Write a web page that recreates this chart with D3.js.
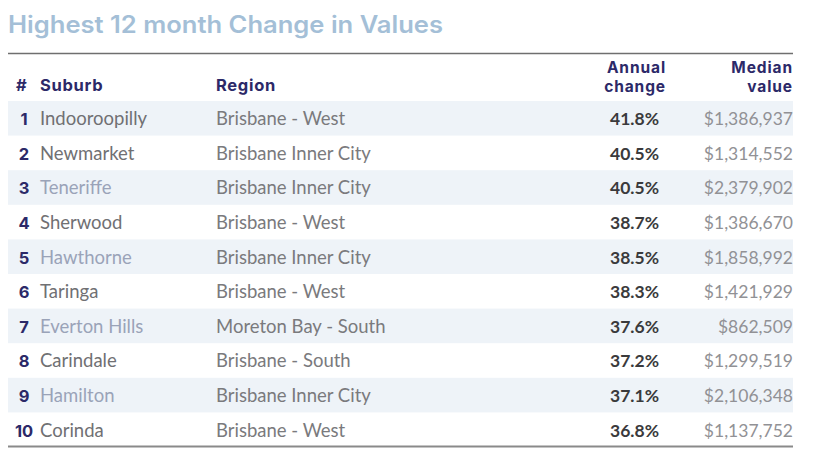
<!DOCTYPE html>
<html><head><meta charset="utf-8">
<script src="https://cdn.jsdelivr.net/npm/d3@7"></script>
<style>
html,body{margin:0;padding:0;background:#fff;}
svg{display:block;}
</style></head>
<body>
<svg id="chart" width="822" height="474"></svg>
<script>
const title = "Highest 12 month Change in Values";
const ranks = [1,2,3,4,5,6,7,8,9,10];
const suburbs = ["Indooroopilly","Newmarket","Teneriffe","Sherwood","Hawthorne","Taringa","Everton Hills","Carindale","Hamilton","Corinda"];
const regions = ["Brisbane - West","Brisbane Inner City","Brisbane Inner City","Brisbane - West","Brisbane Inner City","Brisbane - West","Moreton Bay - South","Brisbane - South","Brisbane Inner City","Brisbane - West"];
const annualChange = [41.8,40.5,40.5,38.7,38.5,38.3,37.6,37.2,37.1,36.8];
const medianValue = [1386937,1314552,2379902,1386670,1858992,1421929,862509,1299519,2106348,1137752];
const linkedSuburbs = ["Teneriffe","Hawthorne","Everton Hills","Hamilton"];

const svg = d3.select("#chart");
const left = 8, right = 793;
const headFont = "Inter, 'Noto Sans', sans-serif";
const bodyFont = "Lato, 'Noto Sans', sans-serif";

// title
svg.append("text").attr("x", left).attr("y", 33)
  .attr("font-family", headFont).attr("font-weight", 600).attr("font-size", 24)
  .attr("fill", "#a4bfd7").attr("textLength", 435).attr("lengthAdjust", "spacingAndGlyphs")
  .text(title);

// top rule
svg.append("line").attr("x1", left).attr("x2", right).attr("y1", 53.5).attr("y2", 53.5)
  .attr("stroke", "#6f6f6f").attr("stroke-width", 1.5);

const cols = { rank: 24, suburb: 40, region: 216, change: 659, median: 793 };
const navy = "#2c2968";

// headers
const hdr = svg.append("g").attr("font-family", headFont).attr("font-weight", 700)
  .attr("fill", navy);
hdr.append("text").attr("x", 16).attr("y", 91).attr("font-size", 16.5).attr("letter-spacing", 0.7).text("#");
hdr.append("text").attr("x", cols.suburb).attr("y", 91).attr("font-size", 16.5).attr("letter-spacing", 0.7).text("Suburb");
hdr.append("text").attr("x", cols.region).attr("y", 91).attr("font-size", 16.5).attr("letter-spacing", 0.7).text("Region");
const twoLine = (x, a, b) => {
  hdr.append("text").attr("text-anchor", "end").attr("font-size", 15.5).attr("letter-spacing", 0.9)
    .attr("x", x).attr("y", 72.5).text(a);
  hdr.append("text").attr("text-anchor", "end").attr("font-size", 15.5).attr("letter-spacing", 0.9)
    .attr("x", x).attr("y", 91.5).text(b);
};
twoLine(666, "Annual", "change");
twoLine(right, "Median", "value");

// rows
const y = d3.scaleBand().domain(ranks).range([101, 447]).padding(0);
const fmtMoney = d3.format("$,");
const fmtPct = d => d3.format(".1f")(d) + "%";

const rows = svg.append("g").selectAll("g").data(ranks.map((r, i) => ({
  rank: r, suburb: suburbs[i], region: regions[i], change: annualChange[i], median: medianValue[i]
}))).join("g").attr("transform", d => `translate(0,${y(d.rank)})`);

rows.filter((d, i) => i % 2 === 0).append("rect")
  .attr("x", left).attr("width", right - left).attr("height", y.bandwidth())
  .attr("fill", "#eef3f8");

const by = y.bandwidth() / 2 + 7;
rows.append("text").attr("x", cols.rank).attr("y", by).attr("text-anchor", "middle")
  .attr("font-family", headFont).attr("font-weight", 700).attr("font-size", 16.5).attr("fill", navy)
  .text(d => d.rank);
rows.append("text").attr("x", cols.suburb).attr("y", by)
  .attr("font-family", bodyFont).attr("font-size", 18.5)
  .attr("fill", d => linkedSuburbs.includes(d.suburb) ? "#9aa3b8" : "#707073")
  .text(d => d.suburb);
rows.append("text").attr("x", cols.region).attr("y", by)
  .attr("font-family", bodyFont).attr("font-size", 18.5).attr("fill", "#7a7a7d")
  .text(d => d.region);
rows.append("text").attr("x", cols.change).attr("y", by).attr("text-anchor", "end")
  .attr("font-family", bodyFont).attr("font-weight", 700).attr("font-size", 17.5).attr("fill", "#3a3a3c")
  .text(d => fmtPct(d.change));
rows.append("text").attr("x", cols.median).attr("y", by).attr("text-anchor", "end")
  .attr("font-family", bodyFont).attr("font-size", 17.5).attr("fill", "#919195")
  .text(d => fmtMoney(d.median));

// bottom rule
svg.append("line").attr("x1", left).attr("x2", right).attr("y1", 446.5).attr("y2", 446.5)
  .attr("stroke", "#8a8a8a").attr("stroke-width", 2);
</script>
</body></html>
